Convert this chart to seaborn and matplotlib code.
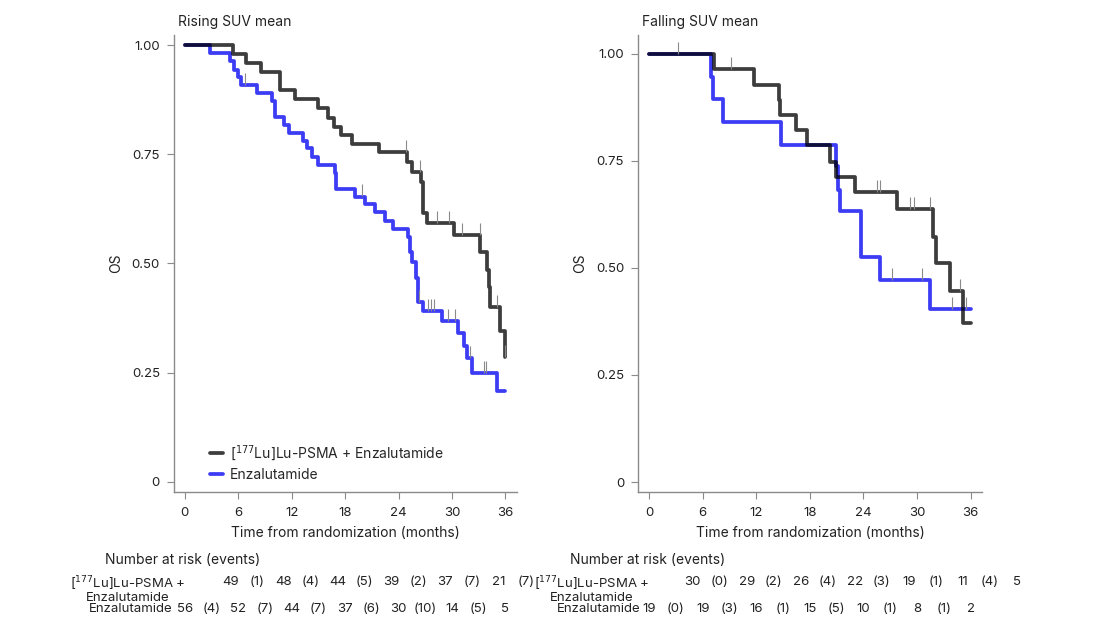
import numpy as np
import pandas as pd
import matplotlib
matplotlib.use("Agg")
import matplotlib.pyplot as plt
import matplotlib.transforms as mtransforms
import seaborn as sns

# ── DATOS ──────────────────────────────────────────────────
# Panel izquierdo: Rising SUV mean
lu_rise_t = [0, 5.36, 6.83, 8.5, 10.7, 12.4, 14.9, 16.1, 16.7, 17.5, 18.75, 21.75,
             24.9, 25.5, 26.5, 26.8, 27.2, 30.2, 33.2, 33.9, 34.1, 34.3, 35.4, 35.9, 36]
lu_rise_s = [1.0, 0.979, 0.958, 0.938, 0.897, 0.876, 0.855, 0.832, 0.813, 0.794, 0.773, 0.754,
             0.733, 0.710, 0.687, 0.615, 0.593, 0.564, 0.527, 0.485, 0.447, 0.401, 0.346, 0.285, 0.285]
lu_rise_cens = [24.8, 26.4, 28.3, 29.7, 31.1, 33.1, 35.0, 35.95]

enz_rise_t = [0, 2.8, 5.1, 5.5, 6.0, 6.3, 8.1, 9.8, 10.1, 11.1, 11.7, 13.3, 13.7, 14.25, 15.0,
              16.9, 17.0, 19.1, 20.2, 21.4, 22.5, 23.4, 25.1, 25.3, 25.5, 26.0, 26.2, 26.8,
              28.9, 30.7, 31.4, 31.7, 32.3, 35.05, 36]
enz_rise_s = [1.0, 0.981, 0.963, 0.944, 0.927, 0.909, 0.891, 0.872, 0.835, 0.817, 0.799, 0.781,
              0.764, 0.744, 0.725, 0.706, 0.670, 0.653, 0.635, 0.617, 0.597, 0.579, 0.560, 0.527,
              0.504, 0.466, 0.411, 0.391, 0.368, 0.340, 0.310, 0.283, 0.250, 0.209, 0.209]
enz_rise_cens = [6.75, 19.9, 26.3, 27.3, 27.6, 28.0, 29.6, 30.3, 32.0, 33.6, 33.85]

# Panel derecho: Falling SUV mean
lu_fall_t = [0, 7.3, 11.7, 14.5, 14.6, 16.4, 17.7, 20.25, 20.9, 23.1, 27.75, 31.8, 32.1, 33.7, 35.1, 36]
lu_fall_s = [1.0, 0.964, 0.928, 0.893, 0.857, 0.821, 0.787, 0.748, 0.713, 0.678, 0.638, 0.573,
             0.511, 0.446, 0.371, 0.371]
lu_fall_cens = [3.2, 9.2, 25.5, 25.8, 29.25, 29.6, 31.4, 34.8]

enz_fall_t = [0, 6.9, 7.2, 8.25, 14.8, 20.9, 21.15, 21.4, 23.7, 25.9, 31.4, 36]
enz_fall_s = [1.0, 0.947, 0.894, 0.840, 0.787, 0.737, 0.682, 0.632, 0.526, 0.472, 0.404, 0.404]
enz_fall_cens = [27.2, 30.6, 33.9, 35.5]

# Tablas de pacientes en riesgo
riesgo_meses = [0, 6, 12, 18, 24, 30, 36]
rise_lu_riesgo = ["49", "(1)", "48", "(4)", "44", "(5)", "39", "(2)", "37", "(7)", "21", "(7)"]
rise_enz_riesgo = ["56", "(4)", "52", "(7)", "44", "(7)", "37", "(6)", "30", "(10)", "14", "(5)", "5"]
fall_lu_riesgo = ["30", "(0)", "29", "(2)", "26", "(4)", "22", "(3)", "19", "(1)", "11", "(4)", "5"]
fall_enz_riesgo = ["19", "(0)", "19", "(3)", "16", "(1)", "15", "(5)", "10", "(1)", "8", "(1)", "2"]

etiqueta_lu = "[$^{177}$Lu]Lu-PSMA + Enzalutamide"
etiqueta_enz = "Enzalutamide"

COLOR_LU = (0, 0, 0, 0.76)
COLOR_ENZ = "#3c3cf5"
GRIS = "#8a8a8a"
TEXTO = "#222222"

# ── ESTILO ─────────────────────────────────────────────────
sns.set_style("white")
plt.rcParams["font.family"] = ["Inter", "DejaVu Sans"]
plt.rcParams["mathtext.fontset"] = "dejavusans"

fig = plt.figure(figsize=(11, 6.25), dpi=100)
ax1 = fig.add_axes([0.158, 0.213, 0.312, 0.731])
ax2 = fig.add_axes([0.580, 0.213, 0.313, 0.731])


def valor_en(t, s, x):
    idx = np.searchsorted(np.array(t), x, side="right") - 1
    return np.array(s)[idx]


def curva(ax, t, s, cens, color, label):
    df = pd.DataFrame({"t": t, "s": s})
    sns.lineplot(data=df, x="t", y="s", ax=ax, drawstyle="steps-post", estimator=None,
                 color=color, linewidth=2.7, label=label, zorder=3 if color == COLOR_LU else 2)
    ax.plot(cens, valor_en(t, s, cens) + 0.014, linestyle="none", marker="|",
            markersize=8, markeredgewidth=0.8, color=GRIS, zorder=4)


def formato(ax, titulo, ylim_sup):
    ax.set_xlim(-1.24, 37.3)
    ax.set_ylim(-0.023, ylim_sup)
    ax.set_xticks(riesgo_meses)
    ax.set_yticks([0, 0.25, 0.5, 0.75, 1.0])
    ax.set_yticklabels(["0", "0.25", "0.50", "0.75", "1.00"])
    for lado in ["top", "right"]:
        ax.spines[lado].set_visible(False)
    for lado in ["left", "bottom"]:
        ax.spines[lado].set_color(GRIS)
        ax.spines[lado].set_linewidth(1.0)
    ax.tick_params(axis="both", which="major", bottom=True, left=True, direction="out",
                   length=5, width=0.8, color=GRIS, labelsize=9.5, labelcolor=TEXTO)
    ax.tick_params(axis="x", pad=6)
    ax.tick_params(axis="y", pad=5)
    ax.set_xlabel("Time from randomization (months)", fontsize=10, color=TEXTO, labelpad=5)
    ax.set_ylabel("OS", fontsize=10, color=TEXTO, labelpad=6)
    pos = ax.get_position()
    fig.text(pos.x0 + 4 / 1100, 1 - 22 / 625, titulo, fontsize=10, color=TEXTO,
             ha="left", va="center")


def tabla_riesgo(ax, fila_lu, off_lu, fila_enz, x_label_lu, x_label_enz, x_titulo):
    trans = mtransforms.blended_transform_factory(ax.transData, fig.transFigure)
    fig.text(x_titulo, 1 - 560 / 625, "Number at risk (events)", fontsize=10,
             color=TEXTO, ha="left", va="center")
    for i, v in enumerate(fila_lu):
        ax.text(off_lu + 3.02 * i, 1 - 582 / 625, v, transform=trans, fontsize=9.5,
                ha="center", va="center", color=TEXTO, clip_on=False)
    for i, v in enumerate(fila_enz):
        ax.text(riesgo_meses[0] + 3.0 * i, 1 - 609 / 625, v, transform=trans, fontsize=9.5,
                ha="center", va="center", color=TEXTO, clip_on=False)
    fig.text(x_label_lu, 1 - 589 / 625, "[$^{177}$Lu]Lu-PSMA +\nEnzalutamide", fontsize=9.5,
             color=TEXTO, ha="center", va="center", linespacing=0.95)
    fig.text(x_label_enz, 1 - 609 / 625, "Enzalutamide", fontsize=9.5,
             color=TEXTO, ha="right", va="center")


# ── PANEL IZQUIERDO ────────────────────────────────────────
curva(ax1, enz_rise_t, enz_rise_s, enz_rise_cens, COLOR_ENZ, etiqueta_enz)
curva(ax1, lu_rise_t, lu_rise_s, lu_rise_cens, COLOR_LU, etiqueta_lu)
formato(ax1, "Rising SUV mean", 1.023)
h, l = ax1.get_legend_handles_labels()
ax1.legend(h[::-1], l[::-1], loc="lower left", bbox_to_anchor=(0.07, -0.005), frameon=False,
           fontsize=10, handlelength=0.9, handletextpad=0.5, labelspacing=0.35)
tabla_riesgo(ax1, rise_lu_riesgo, 5.1, rise_enz_riesgo, 128 / 1100, 172 / 1100, 105 / 1100)

# ── PANEL DERECHO ──────────────────────────────────────────
curva(ax2, enz_fall_t, enz_fall_s, enz_fall_cens, COLOR_ENZ, etiqueta_enz)
curva(ax2, lu_fall_t, lu_fall_s, lu_fall_cens, COLOR_LU, etiqueta_lu)
formato(ax2, "Falling SUV mean", 1.044)
ax2.get_legend().remove()
tabla_riesgo(ax2, fall_lu_riesgo, 4.9, fall_enz_riesgo, 592 / 1100, 640 / 1100, 570 / 1100)

fig.savefig("out.png", dpi=100)
